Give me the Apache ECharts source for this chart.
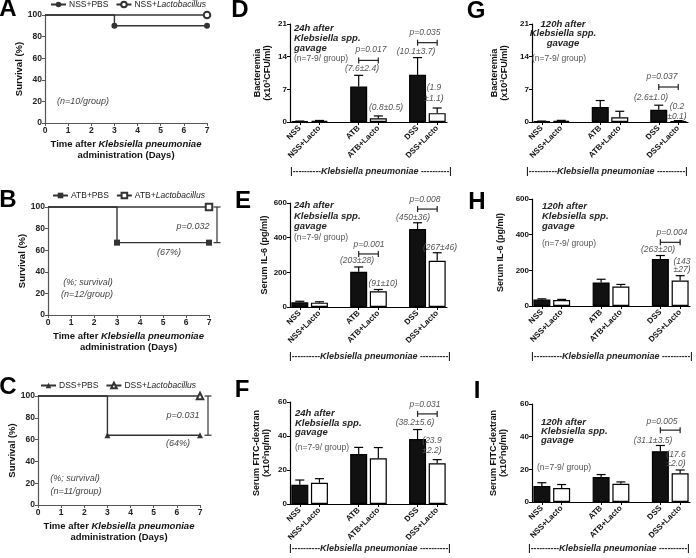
<!DOCTYPE html>
<html><head><meta charset="utf-8">
<script src="https://cdn.jsdelivr.net/npm/echarts@6/dist/echarts.min.js"></script>
<style>html,body{margin:0;padding:0;background:#fff}#c{width:696px;height:558px}</style>
</head><body><div id="c"></div>
<script>
// ================= DATA =================
// Survival (Kaplan-Meier style step curves)
const survivalDaysPBS = [0, 3, 7];
const survivalDaysLacto = [0, 7];
const survA_PBS = [100, 90, 90];
const survA_Lacto = [100, 100];
const survB_PBS = [100, 67, 67];
const survB_Lacto = [100, 100];
const survC_PBS = [100, 64, 64];
const survC_Lacto = [100, 100];

// Bar panels (mean, SEM-up)
const barLabels = ['NSS', 'NSS+Lacto', 'ATB', 'ATB+Lacto', 'DSS', 'DSS+Lacto'];
const D_mean = [0.15, 0.25, 7.6, 0.8, 10.1, 1.9];
const D_err  = [0.05, 0.08, 2.4, 0.5, 3.7, 1.1];
const E_mean = [27, 25, 203, 91, 450, 267];
const E_err  = [6, 5, 28, 10, 36, 46];
const F_mean = [11.3, 12.5, 29.4, 26.9, 38.2, 23.9];
const F_err  = [2.8, 2.4, 3.9, 6.3, 5.6, 2.2];
const G_mean = [0.15, 0.25, 3.2, 1.0, 2.6, 0.2];
const G_err  = [0.05, 0.1, 1.4, 1.3, 1.0, 0.1];
const H_mean = [36, 33, 132, 109, 263, 143];
const H_err  = [4, 4, 18, 12, 20, 27];
const I_mean = [9.8, 8.6, 15.3, 11.1, 31.1, 17.6];
const I_err  = [2.0, 2.1, 1.5, 1.2, 3.5, 2.0];

// ================= BUILD =================
const FONT = '"Liberation Sans", Arial, Helvetica, sans-serif';
const chart = echarts.init(document.getElementById('c'), null, {renderer: 'canvas', width: 696, height: 558});

const grids = [], xAxes = [], yAxes = [], series = [], legends = [], graphics = [];

function txt(text, x, y, opts) {
  opts = opts || {};
  const style = {
    text: text, fill: opts.fill || '#444',
    font: opts.font || ('italic 8.5px ' + FONT),
    align: opts.align || 'center', verticalAlign: 'middle'
  };
  if (opts.rich) style.rich = opts.rich;
  graphics.push({type: 'text', x: x, y: y, z: 100, silent: true, style: style});
}

// ---------- survival panels ----------
const survPanels = [
  {grid: {left: 45, top: 15, width: 162, height: 108}, pbsName: 'NSS+PBS', lactoName: 'NSS+Lactobacillus',
   pbs: survA_PBS, lacto: survA_Lacto, sym: 'circle', esym: 'emptyCircle', legend: {left: 50, top: 0}},
  {grid: {left: 48, top: 207, width: 161, height: 108}, pbsName: 'ATB+PBS', lactoName: 'ATB+Lactobacillus',
   pbs: survB_PBS, lacto: survB_Lacto, sym: 'rect', esym: 'emptyRect', legend: {left: 52, top: 191}, bracket: true},
  {grid: {left: 38, top: 396, width: 162, height: 109}, pbsName: 'DSS+PBS', lactoName: 'DSS+Lactobacillus',
   pbs: survC_PBS, lacto: survC_Lacto, sym: 'triangle', esym: 'emptyTriangle', legend: {left: 40, top: 381}, bracket: true}
];

const SC = '#333';
survPanels.forEach(function (p) {
  const gi = grids.length;
  grids.push(Object.assign({containLabel: false}, p.grid));
  xAxes.push({
    type: 'value', gridIndex: gi, min: 0, max: 7, interval: 1,
    splitLine: {show: false},
    axisLine: {show: true, lineStyle: {color: '#555', width: 1.2}},
    axisTick: {show: true, length: 3, lineStyle: {color: '#555'}},
    axisLabel: {fontSize: 8.5, fontWeight: 'bold', color: '#222', fontFamily: FONT, margin: 3},
    name: '{b|Time after }{bi|Klebsiella pneumoniae}\n{b|administration (Days)}',
    nameLocation: 'middle', nameGap: 16,
    nameTextStyle: {rich: {
      b: {fontSize: 9.5, fontWeight: 'bold', color: '#111', fontFamily: FONT, lineHeight: 11},
      bi: {fontSize: 9.5, fontWeight: 'bold', fontStyle: 'italic', color: '#111', fontFamily: FONT, lineHeight: 11}
    }}
  });
  yAxes.push({
    type: 'value', gridIndex: gi, min: 0, max: 100, interval: 20,
    splitLine: {show: false},
    axisLine: {show: true, lineStyle: {color: '#555', width: 1.2}},
    axisTick: {show: true, length: 3, lineStyle: {color: '#555'}},
    axisLabel: {fontSize: 8.5, fontWeight: 'bold', color: '#222', fontFamily: FONT, margin: 3},
    name: 'Survival (%)', nameLocation: 'middle', nameRotate: 90, nameGap: 20,
    nameTextStyle: {fontSize: 9.5, fontWeight: 'bold', color: '#111', fontFamily: FONT}
  });
  series.push({
    type: 'line', name: p.pbsName, xAxisIndex: gi, yAxisIndex: gi, step: 'end', clip: false,
    data: survivalDaysPBS.map(function (d, k) { return {value: [d, p.pbs[k]], symbol: k === 0 ? 'none' : p.sym}; }),
    symbol: p.sym, symbolSize: 6, color: SC,
    lineStyle: {color: SC, width: 1.4}, itemStyle: {color: SC}, z: 3, animation: false
  });
  series.push({
    type: 'line', name: p.lactoName, xAxisIndex: gi, yAxisIndex: gi, clip: false,
    data: survivalDaysLacto.map(function (d, k) { return {value: [d, p.lacto[k]], symbol: k === 0 ? 'none' : p.esym}; }),
    symbol: p.esym, symbolSize: 6.5, color: SC,
    lineStyle: {color: SC, width: 1.4}, itemStyle: {color: SC, borderWidth: 1.2}, z: 4, animation: false
  });
  if (p.bracket) {
    series.push({
      type: 'custom', xAxisIndex: gi, yAxisIndex: gi, silent: true, animation: false,
      data: [[7, p.pbs[p.pbs.length - 1], p.lacto[p.lacto.length - 1]]],
      encode: {x: 0, y: [1, 2]},
      renderItem: function (params, api) {
        const a = api.coord([api.value(0), api.value(1)]);
        const b = api.coord([api.value(0), api.value(2)]);
        const x = a[0] + 8, hw = 3.5;
        const st = {stroke: '#333', lineWidth: 1.2};
        return {type: 'group', children: [
          {type: 'line', shape: {x1: x, y1: a[1], x2: x, y2: b[1]}, style: st},
          {type: 'line', shape: {x1: x - hw, y1: a[1], x2: x + hw, y2: a[1]}, style: st},
          {type: 'line', shape: {x1: x - hw, y1: b[1], x2: x + hw, y2: b[1]}, style: st}
        ]};
      }
    });
  }
  legends.push({
    data: [p.pbsName, p.lactoName], left: p.legend.left, top: p.legend.top,
    itemWidth: 15, itemHeight: 7, itemGap: 7, selectedMode: false, padding: 0,
    textStyle: {fontSize: 8.5, color: '#222', fontFamily: FONT, padding: [0, 0, 0, -2],
      rich: {n: {fontSize: 8.5, color: '#222', fontFamily: FONT}, i: {fontSize: 8.5, fontStyle: 'italic', color: '#222', fontFamily: FONT}}},
    formatter: function (name) {
      return name.indexOf('Lactobacillus') >= 0 ? '{n|' + name.replace('Lactobacillus', '') + '}{i|Lactobacillus}' : '{n|' + name + '}';
    }
  });
});

// survival annotations
txt('(n=10/group)', 83, 101, {font: 'italic 9px ' + FONT});
txt('p=0.032', 193, 226, {font: 'italic 9px ' + FONT});
txt('(67%)', 169, 252, {font: 'italic 9px ' + FONT});
txt('(%; survival)', 88, 282, {font: 'italic 9px ' + FONT});
txt('(n=12/group)', 87, 294, {font: 'italic 9px ' + FONT});
txt('p=0.031', 183, 415, {font: 'italic 9px ' + FONT});
txt('(64%)', 178, 443, {font: 'italic 9px ' + FONT});
txt('(%; survival)', 75, 478, {font: 'italic 9px ' + FONT});
txt('(n=11/group)', 76, 491, {font: 'italic 9px ' + FONT});

// ---------- bar panels ----------
const slotIndex = [0, 1, 3, 4, 6, 7];
const categories = [];
barLabels.forEach(function (l, i) { categories.push(l); if (i === 1 || i === 3) categories.push(''); });

const barPanels = [
  {grid: {left: 290, top: 24, width: 157, height: 98}, mean: D_mean, err: D_err, max: 21, interval: 7,
   name: 'Bacteremia\n(x10³CFU/ml)', nameGap: 17, brackets: [[3, 4, 13.2], [6, 7, 17.0]],
   header: {lines: ['24h after', 'Klebsiella spp.', 'gavage'], x: 294, ys: [28, 38, 48], align: 'left'},
   n: {x: 294, y: 59, align: 'left'},
   ann: [['p=0.017', 371, 50], ['(7.6±2.4)', 362, 69], ['(0.8±0.5)', 386, 108], ['p=0.035', 425, 33],
         ['(10.1±3.7)', 416, 52], ['(1.9', 434, 88], ['±1.1)', 434, 99]],
   bottom: [371, 172]},
  {grid: {left: 290, top: 203, width: 157, height: 104}, mean: E_mean, err: E_err, max: 600, interval: 200,
   name: 'Serum IL-6 (pg/ml)', nameGap: 20, brackets: [[3, 4, 306], [6, 7, 565]],
   header: {lines: ['24h after', 'Klebsiella spp.', 'gavage'], x: 294, ys: [205, 216, 226], align: 'left'},
   n: {x: 294, y: 238, align: 'left'},
   ann: [['p=0.001', 369, 245], ['(203±28)', 357, 261], ['(91±10)', 383, 284], ['p=0.008', 425, 200],
         ['(450±36)', 413, 218], ['(267±46)', 440, 248]],
   bottom: [370, 357]},
  {grid: {left: 290, top: 402, width: 157, height: 102}, mean: F_mean, err: F_err, max: 60, interval: 20,
   name: 'Serum FITC-dextran\n(x10²ng/ml)', nameGap: 18, brackets: [[6, 7, 53]],
   header: {lines: ['24h after', 'Klebsiella spp.', 'gavage'], x: 295, ys: [413, 423, 432], align: 'left'},
   n: {x: 295, y: 448, align: 'left'},
   ann: [['p=0.031', 425, 405], ['(38.2±5.6)', 415, 423], ['(23.9', 432, 441], ['±2.2)', 432, 451]],
   bottom: [370, 549]},
  {grid: {left: 532, top: 24, width: 156, height: 98}, mean: G_mean, err: G_err, max: 21, interval: 7,
   name: 'Bacteremia\n(x10³CFU/ml)', nameGap: 22, brackets: [[6, 7, 7.5]],
   header: {lines: ['120h after', 'Klebsiella spp.', 'gavage'], x: 563, ys: [24, 33, 43], align: 'center'},
   n: {x: 559, y: 59, align: 'center'},
   ann: [['p=0.037', 662, 77], ['(2.6±1.0)', 651, 98], ['(0.2', 677, 107], ['±0.1)', 677, 117]],
   bottom: [607, 172]},
  {grid: {left: 532, top: 199, width: 158, height: 107}, mean: H_mean, err: H_err, max: 600, interval: 200,
   name: 'Serum IL-6 (pg/ml)', nameGap: 26, brackets: [[6, 7, 357]],
   header: {lines: ['120h after', 'Klebsiella spp.', 'gavage'], x: 542, ys: [206, 216, 226], align: 'left'},
   n: {x: 542, y: 244, align: 'left'},
   ann: [['p=0.004', 672, 233], ['(263±20)', 658, 250], ['(143', 682, 262], ['±27)', 682, 270]],
   bottom: [612, 357]},
  {grid: {left: 532, top: 404, width: 158, height: 98}, mean: I_mean, err: I_err, max: 60, interval: 20,
   name: 'Serum FITC-dextran\n(x10²ng/ml)', nameGap: 23, brackets: [[6, 7, 44]],
   header: {lines: ['120h after', 'Klebsiella spp.', 'gavage'], x: 541, ys: [422, 431, 440], align: 'left'},
   n: {x: 537, y: 468, align: 'left'},
   ann: [['p=0.005', 662, 422], ['(31.1±3.5)', 653, 441], ['(17.6', 676, 455], ['±2.0)', 676, 464]],
   bottom: [609, 549]}
];

function errRender(params, api) {
  const x = api.value(0), m = api.value(1), e = api.value(2);
  const p0 = api.coord([x, m]), p1 = api.coord([x, m + e]);
  const hw = 4.5, st = {stroke: '#000', lineWidth: 1.2};
  return {type: 'group', children: [
    {type: 'line', shape: {x1: p0[0], y1: p0[1], x2: p1[0], y2: p1[1]}, style: st},
    {type: 'line', shape: {x1: p1[0] - hw, y1: p1[1], x2: p1[0] + hw, y2: p1[1]}, style: st}
  ]};
}
function bracketRender(params, api) {
  const a = api.coord([api.value(0), api.value(2)]), b = api.coord([api.value(1), api.value(2)]);
  const h = 3, st = {stroke: '#222', lineWidth: 1.2};
  return {type: 'group', children: [
    {type: 'line', shape: {x1: a[0], y1: a[1], x2: b[0], y2: b[1]}, style: st},
    {type: 'line', shape: {x1: a[0], y1: a[1] - h, x2: a[0], y2: a[1] + h}, style: st},
    {type: 'line', shape: {x1: b[0], y1: b[1] - h, x2: b[0], y2: b[1] + h}, style: st}
  ]};
}

const HDR_FONT = 'italic bold 9.5px ' + FONT;
barPanels.forEach(function (p) {
  const gi = grids.length;
  grids.push(Object.assign({containLabel: false}, p.grid));
  xAxes.push({
    type: 'category', gridIndex: gi, data: categories, boundaryGap: true,
    axisLine: {show: true, lineStyle: {color: '#000', width: 1.2}},
    axisTick: {show: true, alignWithLabel: true, length: 3, lineStyle: {color: '#000'},
      interval: function (i, v) { return v !== ''; }},
    axisLabel: {interval: 0, rotate: 45, fontSize: 8, fontWeight: 'bold', color: '#111', fontFamily: FONT, margin: 5}
  });
  yAxes.push({
    type: 'value', gridIndex: gi, min: 0, max: p.max, interval: p.interval,
    splitLine: {show: false},
    axisLine: {show: true, lineStyle: {color: '#000', width: 1.2}},
    axisTick: {show: true, length: 3, lineStyle: {color: '#000'}},
    axisLabel: {fontSize: 8, fontWeight: 'bold', color: '#111', fontFamily: FONT, margin: 3},
    name: p.name, nameLocation: 'middle', nameRotate: 90, nameGap: p.nameGap,
    nameTextStyle: {fontSize: 9, fontWeight: 'bold', color: '#111', fontFamily: FONT, lineHeight: 10}
  });
  const barData = categories.map(function () { return '-'; });
  slotIndex.forEach(function (s, k) {
    barData[s] = {value: p.mean[k], itemStyle: {color: k % 2 === 0 ? '#111' : '#fff', borderColor: '#000', borderWidth: 1.2}};
  });
  series.push({type: 'bar', xAxisIndex: gi, yAxisIndex: gi, data: barData, barWidth: 17, animation: false, z: 2});
  series.push({
    type: 'custom', xAxisIndex: gi, yAxisIndex: gi, silent: true, animation: false, z: 3,
    data: slotIndex.map(function (s, k) { return [s, p.mean[k], p.err[k]]; }),
    encode: {x: 0, y: 1}, renderItem: errRender
  });
  series.push({
    type: 'custom', xAxisIndex: gi, yAxisIndex: gi, silent: true, animation: false, z: 3,
    data: p.brackets, encode: {x: [0, 1], y: 2}, renderItem: bracketRender
  });
  // header text
  p.header.lines.forEach(function (l, k) {
    txt(l, p.header.x, p.header.ys[k], {font: HDR_FONT, fill: '#222', align: p.header.align});
  });
  txt('(n=7-9/ group)', p.n.x, p.n.y, {font: '8.5px ' + FONT, fill: '#555', align: p.n.align});
  p.ann.forEach(function (a) { txt(a[0], a[1], a[2], {font: 'italic 8.5px ' + FONT, fill: '#555'}); });
  txt('{d||----------}{k|Klebsiella pneumoniae}{d| ----------|}', p.bottom[0], p.bottom[1], {
    rich: {
      d: {fontSize: 8.5, fontWeight: 'bold', fontFamily: FONT, fill: '#222', color: '#222'},
      k: {fontSize: 9, fontWeight: 'bold', fontStyle: 'italic', fontFamily: FONT, fill: '#222', color: '#222'}
    }, font: 'bold 9px ' + FONT, fill: '#222'
  });
});

// panel letters
const LET = 'bold 24px ' + FONT;
[['A', 8, 9], ['B', 8, 200], ['C', 8, 387], ['D', 240, 10], ['E', 243, 201], ['F', 242, 390],
 ['G', 476, 11], ['H', 477, 202], ['I', 477, 391]].forEach(function (l) {
  txt(l[0], l[1], l[2], {font: LET, fill: '#000'});
});

chart.setOption({
  animation: false,
  backgroundColor: '#fff',
  grid: grids, xAxis: xAxes, yAxis: yAxes, series: series, legend: legends,
  graphic: {elements: graphics}
});
</script>
</body></html>
